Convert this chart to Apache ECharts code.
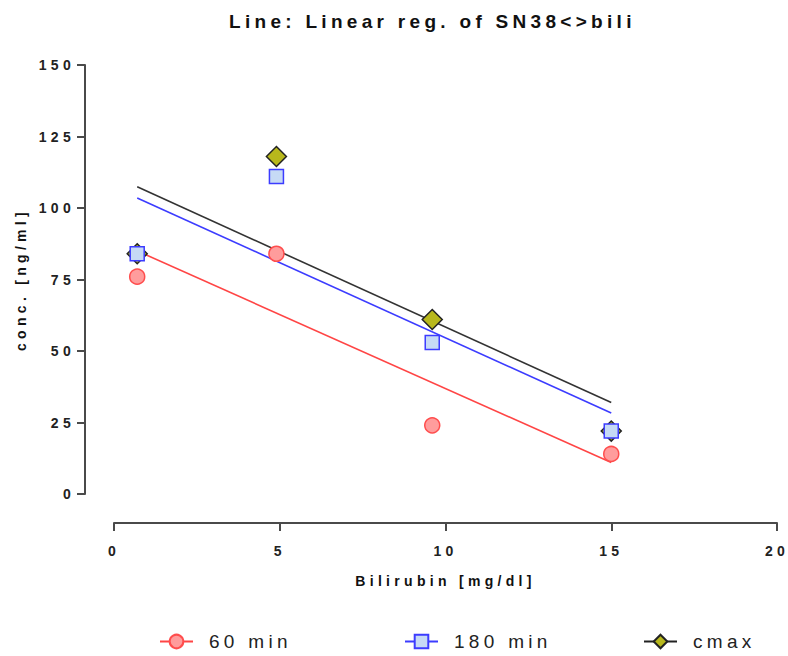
<!DOCTYPE html>
<html>
<head>
<meta charset="utf-8">
<script src="https://cdn.jsdelivr.net/npm/echarts@6/dist/echarts.min.js"></script>
<style>
  html, body { margin: 0; padding: 0; background: #fff; }
  #chart { width: 788px; height: 656px; }
  /* GraphPad export has wide letter spacing on every text */
  #chart text { letter-spacing: 4.3px; }
</style>
</head>
<body>
<div id="chart"></div>
<script>
// bilirubin values (x) of the four patients
const bili = [0.7, 4.9, 9.6, 15]
// SN38 concentrations
const conc60 = [76, 84, 24, 14]
const conc180 = [84, 111, 53, 22]
const concMax = [84, 118, 61, 22]
// ends of the fitted regression lines (x from first to last bilirubin)
const fitX = [0.7, 15]
const fit60 = [85, 11]
const fit180 = [103.5, 28.3]
const fitMax = [107.4, 32]
const xTicks = [0, 5, 10, 15, 20]
const yTicks = [0, 25, 50, 75, 100, 125, 150]

const font = 'Liberation Sans'
const axisColor = '#4a4a4a'

function pairs(xs, ys) {
  return xs.map((x, i) => [x, ys[i]])
}

const chart = echarts.init(document.getElementById('chart'), null, { renderer: 'svg' })

// one legend per item so the uneven spacing of the original can be kept
function legendAt(left, name, lineColor) {
  return {
    left: left,
    top: 632,
    padding: 0,
    orient: 'horizontal',
    itemWidth: 33,
    itemHeight: 17,
    data: [name],
    selectedMode: false,
    lineStyle: { color: lineColor, width: 2, opacity: 1 },
    textStyle: { fontFamily: font, fontSize: 19, color: '#222', padding: [0, 0, 0, 11] }
  }
}

const option = {
  animation: false,
  title: {
    text: 'Line: Linear reg. of SN38<>bili',
    left: 229,
    top: 12,
    padding: 0,
    textStyle: { fontFamily: font, fontSize: 19, fontWeight: 'bold', color: '#111' }
  },
  legend: [
    legendAt(159, '60 min', '#ff4545'),
    legendAt(404, '180 min', '#3c3cff'),
    legendAt(643, 'cmax', '#222')
  ],
  grid: { left: 114, right: 11, top: 65, bottom: 162 },
  xAxis: {
    type: 'value',
    min: xTicks[0],
    max: xTicks[xTicks.length - 1],
    interval: 5,
    offset: 29,
    name: 'Bilirubin [mg/dl]',
    nameLocation: 'middle',
    nameGap: 51,
    nameTextStyle: { fontFamily: font, fontSize: 14, fontWeight: 'bold', color: '#111' },
    axisLine: { onZero: false, lineStyle: { color: axisColor, width: 2 } },
    axisTick: { show: true, length: 8, lineStyle: { color: axisColor, width: 2 } },
    axisLabel: { margin: 21, fontFamily: font, fontSize: 14, fontWeight: 'bold', color: '#222' },
    splitLine: { show: false }
  },
  yAxis: {
    type: 'value',
    min: yTicks[0],
    max: yTicks[yTicks.length - 1],
    interval: 25,
    offset: 29,
    name: 'conc. [ng/ml]',
    nameLocation: 'middle',
    nameGap: 57,
    nameTextStyle: { fontFamily: font, fontSize: 14, fontWeight: 'bold', color: '#111' },
    axisLine: { show: true, onZero: false, lineStyle: { color: axisColor, width: 2 } },
    axisTick: { show: true, length: 8, lineStyle: { color: axisColor, width: 2 } },
    axisLabel: { margin: 10, fontFamily: font, fontSize: 14, fontWeight: 'bold', color: '#222' },
    splitLine: { show: false }
  },
  series: [
    // regression lines
    {
      type: 'line',
      data: pairs(fitX, fitMax),
      symbol: 'none',
      silent: true,
      lineStyle: { color: '#333', width: 1.6 }
    },
    {
      type: 'line',
      data: pairs(fitX, fit180),
      symbol: 'none',
      silent: true,
      lineStyle: { color: '#3c3cff', width: 1.6 }
    },
    {
      type: 'line',
      data: pairs(fitX, fit60),
      symbol: 'none',
      silent: true,
      lineStyle: { color: '#ff4545', width: 1.6 }
    },
    // measured points (line hidden, only symbols)
    {
      name: 'cmax',
      type: 'line',
      data: pairs(bili, concMax),
      symbol: 'diamond',
      symbolSize: 20,
      lineStyle: { opacity: 0 },
      itemStyle: { color: '#b8b81c', borderColor: '#222', borderWidth: 1.5 }
    },
    {
      name: '180 min',
      type: 'line',
      data: pairs(bili, conc180),
      symbol: 'rect',
      symbolSize: 14,
      lineStyle: { opacity: 0 },
      itemStyle: { color: '#c6daf5', borderColor: '#3c3cff', borderWidth: 1.5 }
    },
    {
      name: '60 min',
      type: 'line',
      data: pairs(bili, conc60),
      symbol: 'circle',
      symbolSize: 15,
      lineStyle: { opacity: 0 },
      itemStyle: { color: '#ff9c9c', borderColor: '#ff4d4d', borderWidth: 1.5 }
    }
  ]
}

chart.setOption(option)
</script>
</body>
</html>
